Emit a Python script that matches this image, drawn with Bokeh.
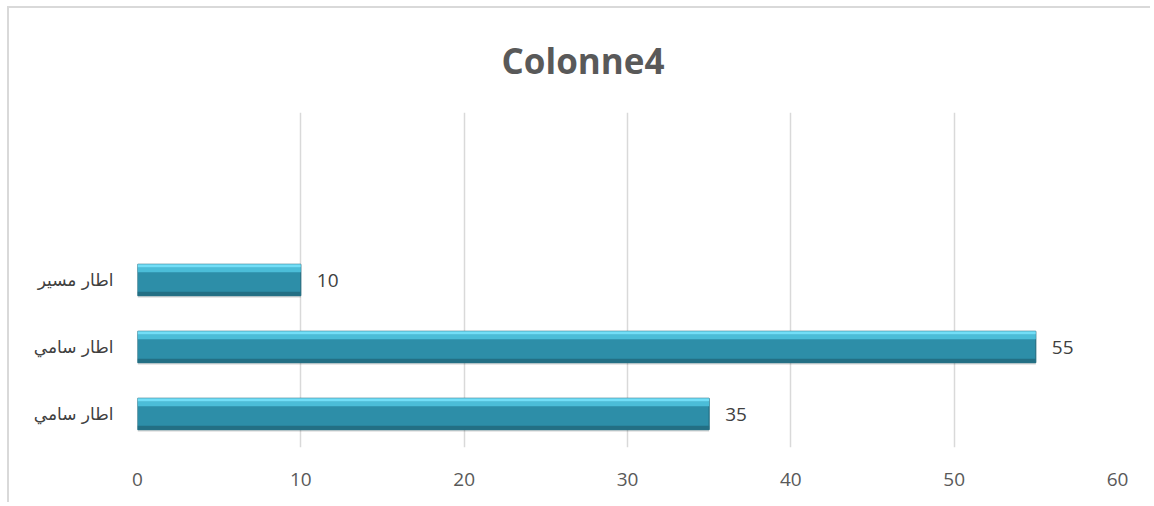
from bokeh.plotting import figure
from bokeh.models import ColumnDataSource, Range1d, FixedTicker
from bokeh.core.properties import value
from bokeh.embed import file_html
from bokeh.resources import INLINE

# data (bottom to top)
title_text = "Colonne4"
categories = ["اطار سامي", "اطار سامي", "اطار مسير"]
values = [35, 55, 10]
positions = [1, 2, 3]
x_ticks = [0, 10, 20, 30, 40, 50, 60]

H = 0.47
src = ColumnDataSource(dict(
    y=positions, v=values, lbl=[str(v) for v in values],
    shadow=[p - 0.03 for p in positions],
    top1=[p + H / 2 - 0.025 for p in positions],
    top2=[p + H / 2 - 0.085 for p in positions],
    bot=[p - H / 2 + 0.03 for p in positions],
))

p = figure(width=1143, height=496, output_backend="svg", toolbar_location=None,
           x_range=Range1d(0, 60), y_range=Range1d(0.5, 5.5),
           min_border_left=128, min_border_right=35, min_border_top=104,
           min_border_bottom=57, margin=(6, 0, 0, 7),
           styles={"border-top": "2px solid #d9d9d9", "border-left": "2px solid #d9d9d9"})
p.outline_line_color = None
p.background_fill_color = "white"
p.border_fill_color = "white"

p.title.text = title_text
p.title.align = "left"
p.title.offset = 364
p.title.vertical_align = "top"
p.title.standoff = 54
p.title.text_font = "Open Sans"
p.title.text_font_size = "35px"
p.title.text_font_style = "bold"
p.title.text_color = "#595959"

# bars
p.hbar(y="shadow", right="v", left=0, height=H, source=src,
       fill_color="#000000", fill_alpha=0.12, line_color=None)
p.hbar(y="y", right="v", left=0, height=H, source=src,
       fill_color="#2d8ea8", line_color="#1f6578", line_width=1)
p.hbar(y="top2", right="v", left=0, height=0.07, source=src,
       fill_color="#4bbdd8", line_color=None)
p.hbar(y="top1", right="v", left=0, height=0.05, source=src,
       fill_color="#72def7", line_color=None)
p.hbar(y="bot", right="v", left=0, height=0.06, source=src,
       fill_color="#236f84", line_color=None)

p.text(x="v", y="y", text="lbl", source=src, x_offset=16,
       text_baseline="middle", text_align="left",
       text_font=value("Open Sans"), text_font_size="19px", text_color="#404040")

# axes
p.xaxis.ticker = FixedTicker(ticks=x_ticks)
p.xaxis.axis_line_color = None
p.xaxis.major_tick_line_color = None
p.xaxis.minor_tick_line_color = None
p.xaxis.major_label_text_font = "Open Sans"
p.xaxis.major_label_text_font_size = "19px"
p.xaxis.major_label_text_color = "#595959"
p.xaxis.major_label_standoff = 19

p.yaxis.ticker = FixedTicker(ticks=positions)
p.yaxis.major_label_overrides = {pos: c for pos, c in zip(positions, categories)}
p.yaxis.axis_line_color = None
p.yaxis.major_tick_line_color = None
p.yaxis.minor_tick_line_color = None
p.yaxis.major_label_text_font = "DejaVu Sans"
p.yaxis.major_label_text_font_size = "17px"
p.yaxis.major_label_text_color = "#404040"
p.yaxis.major_label_standoff = 18

p.xgrid.grid_line_color = "#d9d9d9"
p.xgrid.grid_line_width = 1.5
p.ygrid.grid_line_color = None

open("out.html", "w").write(file_html(p, INLINE))
